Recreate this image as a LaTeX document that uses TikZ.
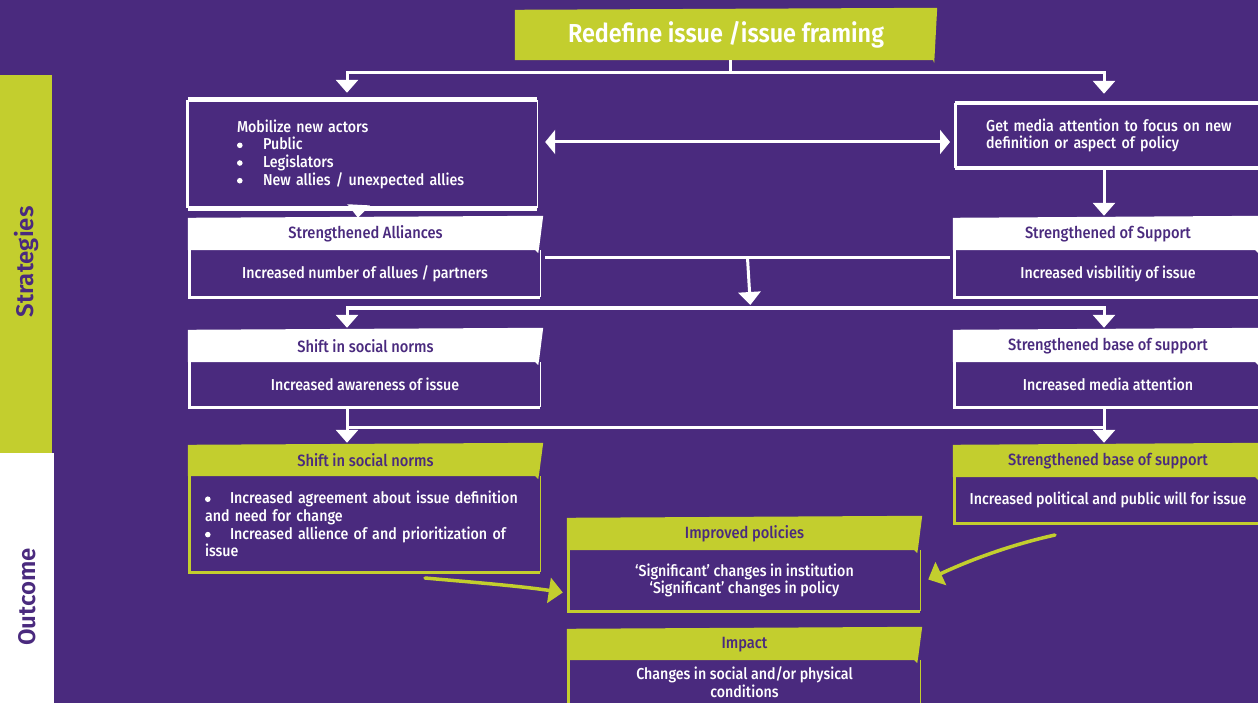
\documentclass[tikz,border=0pt]{standalone}
\usepackage{fontspec}
\setmainfont{Fira Sans Medium}[FakeStretch=0.9]
\newfontfamily\rktitle{Fira Sans SemiBold}[FakeStretch=0.9]
\newfontfamily\rkside{Fira Sans SemiBold}
\usetikzlibrary{arrows.meta,calc,backgrounds}
\definecolor{bgpurple}{HTML}{4A2A7E}
\definecolor{lime}{HTML}{C3CE2E}
\newcommand{\rkEdges}[2][white]{%
  \draw[#1, line width=3pt] (#2.north west) -- (#2.south west) -- (#2.south east);
  \draw[#1, line width=1.2pt] (#2.south east) -- (#2.north east);}
\newcommand{\rkHdr}[2]{%
  \fill[#1] (#2.north west) -- ([yshift=2pt]#2.north east) -- ([xshift=-4pt,yshift=3pt]#2.south east)
    -- ([xshift=-5pt,yshift=-3pt]#2.south east) -- ([xshift=-8pt]#2.south east) -- (#2.south west) -- cycle;}
\newcommand{\rkdot}{\tikz[baseline=-4.4pt]\fill[white] (0pt,0pt) circle (2.8pt);}
\newcommand{\rkb}{\makebox[26pt][l]{\rkdot}}
\newcommand{\rkbb}{\makebox[25pt][l]{\rkdot}}
\begin{document}
\begin{tikzpicture}[x=1pt,y=-1pt,
  every node/.style={font=\fontsize{15.8}{17.7}\selectfont, inner sep=0pt},
  hdr/.style={rectangle, minimum height=32pt, text=bgpurple, font=\fontsize{16.3}{18}\selectfont},
  hdrw/.style={hdr},
  hdrg/.style={hdr},
  body/.style={rectangle, text=white, align=center},
  conn/.style={draw=white, line width=3pt},
  wtip/.style={Triangle[width=#1, length=13pt, fill=white, color=white]},
  arr/.style={conn, -{Triangle[width=22pt,length=13pt,fill=white,color=white]}},
  dblarr/.style={conn, {Triangle[width=24pt,length=10pt,fill=white,color=white]}-{Triangle[width=24pt,length=10pt,fill=white,color=white]}},
  garr/.style={draw=lime, line width=3.5pt, line cap=round, -{Triangle[width=25pt,length=14pt,fill=lime,color=lime]}},
  side/.style={rotate=90, text=bgpurple, font=\fontsize{24}{24}\rkside}
]
\useasboundingbox (0,0) rectangle (1258,703);
\clip (0,0) rectangle (1258,703);

% title
\node[minimum width=422pt, minimum height=50pt, text=white,
      font=\fontsize{26}{28}\rktitle] (title) at (726,35) {Redefine issue /issue framing};

% side labels
\node[side] (strat) at (27,262) {Strategies};
\node[side] (outc) at (27,597) {Outcome};

% row 1
\node[body, align=left, minimum width=349pt, minimum height=108pt, text width=251pt, inner xsep=49pt]
  (mob) at (362.5,154) {Mobilize new actors\\ \rkb Public\\ \rkb Legislators\\ \rkb New allies / unexpected allies};
\node[body, align=left, anchor=west, minimum height=65pt, text width=262pt, inner xsep=31pt]
  (media) at (955,135.5) {Get media attention to focus on new\\definition or aspect of policy};

% row 2
\node[hdrw, minimum width=355pt] (allh) at (365.5,234) {Strengthened Alliances};
\node[body, minimum width=350pt, minimum height=47pt] (allb) at (365,273.5) {Increased number of allues / partners};
\node[hdrw, minimum width=310pt] (suph) at (1108,234) {Strengthened of Support};
\node[body, minimum width=306pt, minimum height=47pt] (supb) at (1108,273.5) {Increased visbilitiy of issue};

% row 3
\node[hdrw, minimum width=355pt] (normh) at (365.5,346) {Shift in social norms};
\node[body, minimum width=350pt, minimum height=45pt] (normb) at (365,384.5) {Increased awareness of issue};
\node[hdrw, minimum width=310pt] (baseh) at (1108,346) {Strengthened base of support};
\node[body, minimum width=306pt, minimum height=45pt] (baseb) at (1108,384.5) {Increased media attention};

% row 4
\node[hdrg, minimum width=355pt, minimum height=31pt] (norm2h) at (365.5,460.5) {Shift in social norms};
\node[body, align=left, minimum width=350pt, minimum height=96pt, text width=320pt, inner xsep=15pt]
  (norm2b) at (365,524) {\rkbb Increased agreement about issue definition\\and need for change\\ \rkbb Increased allience of and prioritization of\\issue};
\node[hdrg, minimum width=310pt] (base2h) at (1108,461) {Strengthened base of support};
\node[body, minimum width=306pt, minimum height=46pt] (base2b) at (1108,500) {Increased political and public will for issue};

% outcomes
\node[hdrg, minimum width=355pt] (polh) at (744.5,534) {Improved policies};
\node[body, minimum width=351pt, minimum height=61pt] (polb) at (744.5,580.5) {‘Significant’ changes in institution\\‘Significant’ changes in policy};
\node[hdrg, minimum width=355pt, minimum height=31pt] (imph) at (744.5,644.5) {Impact};
\node[body, minimum width=351pt, minimum height=44pt] (impb) at (744.5,682) {Changes in social and/or physical\\conditions};

% fills behind the texts
\begin{pgfonlayer}{background}
\fill[bgpurple] (0,0) rectangle (1258,703);
\fill[lime] (0,75) rectangle (52,453);
\fill[white] (0,453) rectangle (54,703);
\fill[lime] (title.north west) -- ([yshift=2pt]title.north east) -- ([xshift=-3pt,yshift=-3pt]title.south east)
  -- ([xshift=-4pt]title.south east) -- (title.south west) -- cycle;
\rkHdr{white}{allh}
\rkHdr{white}{suph}
\rkHdr{white}{normh}
\rkHdr{white}{baseh}
\rkHdr{lime}{norm2h}
\rkHdr{lime}{base2h}
\rkHdr{lime}{polh}
\rkHdr{lime}{imph}
\end{pgfonlayer}

% box edges
\draw[white, line width=5pt] (mob.north west) -- (mob.north east);
\draw[white, line width=3pt] (mob.north west) -- (mob.south west);
\draw[white, line width=5pt] (mob.south west) -- (mob.south east);
\draw[white, line width=1.2pt] (mob.south east) -- (mob.north east);
\draw[white, line width=4pt] (media.north east) -- (media.north west);
\draw[white, line width=3pt] (media.north west) -- (media.south west);
\draw[white, line width=4pt] (media.south west) -- (media.south east);
\rkEdges{allb}
\rkEdges{supb}
\rkEdges{normb}
\rkEdges{baseb}
\rkEdges[lime]{norm2b}
\rkEdges[lime]{base2b}
\rkEdges[lime]{polb}
\rkEdges[lime]{impb}

% connectors
\draw[conn] ([xshift=4pt]title.south) -- ++(0,12) coordinate (t1);
\draw[arr, shorten >=7pt] (t1) -| ([xshift=-15.5pt]mob.north);
\draw[arr, shorten >=9pt] (t1) -| ([xshift=149pt]media.north west);
\draw[dblarr] ($(mob.east)+(8,-12)$) -- ($(media.west)+(-5,6.5)$);
\draw[arr] ([xshift=-4pt]mob.south) -- ([xshift=-7.5pt]allh.north);
\draw[arr, shorten >=2pt] ([xshift=149pt]media.south west) -- ([xshift=-4pt]suph.north);
\draw[conn] ($(allb.east)+(5,-15.5)$) -- coordinate[pos=0.5] (m1) ($(supb.west)+(-5,-15.5)$);
\coordinate (bar2) at ($(m1)+(3,50)$);
\draw[arr, shorten >=3pt] (m1) -- (bar2);
\draw[arr, shorten >=2pt] (bar2) -| ([xshift=-18.5pt]normh.north);
\draw[arr, shorten >=2pt] (bar2) -| ([xshift=-4pt]baseh.north);
\draw[conn] ([xshift=-18pt]normb.south) -- ++(0,20) coordinate (b3);
\draw[arr, shorten >=2pt] (b3) -- ([xshift=-18.5pt]norm2h.north);
\coordinate (rb3) at ([xshift=-4pt]baseb.south);
\draw[conn] (b3) -- (rb3 |- b3);
\draw[arr, shorten >=2pt] (rb3) -- ([xshift=-4pt]base2h.north);
\coordinate (g1s) at (425,578);
\draw[garr] (g1s) .. controls (470,582) and (520,586) .. ($(polb.west)+(-6,12)$);
\coordinate (g2s) at (1055,535);
\draw[garr] (g2s) .. controls (1010,545) and (970,560) .. ($(polb.east)+(8,-1)$);
\end{tikzpicture}
\end{document}
